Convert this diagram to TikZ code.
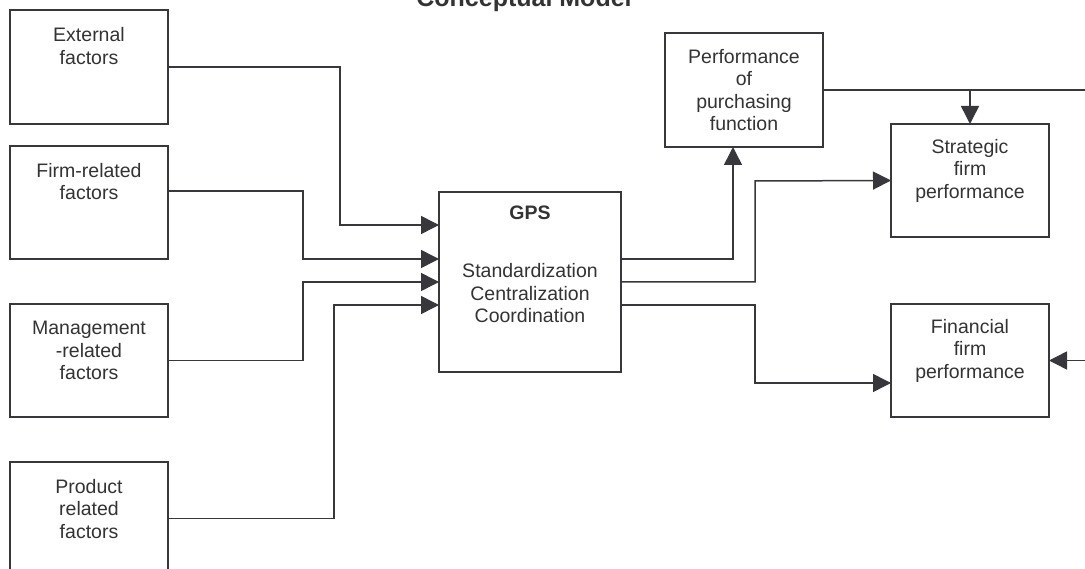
\documentclass[tikz,border=0pt]{standalone}
\usepackage{fontspec}
\setmainfont{Liberation Sans}
\usetikzlibrary{arrows.meta}
\definecolor{ln}{HTML}{38383C}
\definecolor{tx}{HTML}{333333}
\begin{document}
\begin{tikzpicture}[x=1pt,y=-1pt,
 box/.style={draw=ln, line width=1.5pt, inner sep=0pt, outer sep=0pt, minimum width=158pt, minimum height=113pt},
 lbl/.style={anchor=north, align=center, inner sep=0pt, text=tx, font=\fontsize{19.5}{22.5}\selectfont},
 conn/.style={draw=ln, line width=1.5pt},
 arr/.style={conn, -{Triangle[length=18pt,width=18pt]}}]
\clip (0,0) rectangle (1085,569);
\fill[white] (0,0) rectangle (1085,569);
% title
\node[anchor=base, inner sep=0pt, text=tx, font=\fontsize{25}{28}\selectfont\bfseries] (title) at (524,7) {Conceptual Model};
% left boxes
\node[box, minimum height=114pt] (ext) at (89,67) {};
\node[box] (firm) at (89,202.5) {};
\node[box] (mgmt) at (89,360.5) {};
\node[box] (prod) at (89,518.5) {};
\node[lbl] (ext-t) at ([yshift=-17.5pt]ext.north) {External\\factors};
\node[lbl] (firm-t) at ([yshift=-17pt]firm.north) {Firm-related\\factors};
\node[lbl] (mgmt-t) at ([yshift=-17pt]mgmt.north) {Management\\-related\\factors};
\node[lbl] (prod-t) at ([yshift=-17pt]prod.north) {Product\\related\\factors};
% GPS
\node[box, minimum width=182pt, minimum height=180pt] (gps) at (530,282) {};
\node[lbl] (gps-t) at ([yshift=-14pt]gps.north) {\textbf{GPS}\\[35.5pt]Standardization\\Centralization\\Coordination};
% right boxes
\node[box, minimum height=114pt] (perf) at (744,90) {};
\node[box] (strat) at (970,180.5) {};
\node[box] (fin) at (970,360.5) {};
\node[lbl] (perf-t) at ([yshift=-16pt]perf.north) {Performance\\of\\purchasing\\function};
\node[lbl] (strat-t) at ([yshift=-15pt]strat.north) {Strategic\\firm\\performance};
\node[lbl] (fin-t) at ([yshift=-15pt]fin.north) {Financial\\firm\\performance};
% connectors into GPS
\draw[arr] (ext.east) -| (340,225) -- ([yshift=57pt]gps.west);
\draw[arr] ([yshift=11.5pt]firm.east) -| (303,259) -- ([yshift=23pt]gps.west);
\draw[arr] (mgmt.east) -| (303,282) -- (gps.west);
\draw[arr] (prod.east) -| (334,305) -- ([yshift=-23pt]gps.west);
% connectors out of GPS
\draw[arr] ([yshift=23pt]gps.east) -| ([xshift=-11pt]perf.south);
\draw[arr] (gps.east) -| (755,181) -- (strat.west);
\draw[arr] ([yshift=-23pt]gps.east) -| (755,383) -- ([yshift=-22.5pt]fin.west);
% right side
\coordinate (re1) at (1085,90);
\coordinate (re2) at (1085,360.5);
\draw[conn] (perf.east) -- (re1);
\draw[arr] (strat.north |- perf.east) -- (strat.north);
\draw[arr] (re2) -- (fin.east);
\end{tikzpicture}
\end{document}
